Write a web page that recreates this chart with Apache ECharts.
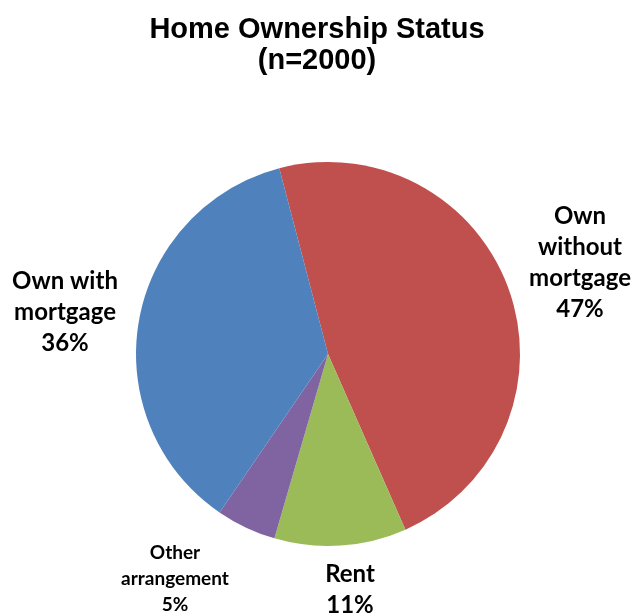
<!DOCTYPE html>
<html>
<head>
<meta charset="utf-8">
<script src="https://cdn.jsdelivr.net/npm/echarts@6/dist/echarts.min.js"></script>
<style>
  html, body { margin: 0; padding: 0; background: #fff; }
  #main { width: 634px; height: 616px; }
</style>
</head>
<body>
<div id="main"></div>
<script>
// 数据
var categories = ['Own\nwithout\nmortgage', 'Rent', 'Other\narrangement', 'Own with\nmortgage'];
var percents = [47, 11, 5, 36];
var colors = ['#C0504D', '#9BBB59', '#8064A2', '#4F81BD'];

// 标签位置 (相对于饼图中心)
var labelSpots = [[252, -91], [22, 236], [-153, 225], [-263, -42]];
var cx = 328, cy = 354;

var pieData = [];
for (var i = 0; i < categories.length; i++) {
  pieData.push({
    name: categories[i],
    value: percents[i],
    itemStyle: { color: colors[i] },
    label: i == 2 ? { fontSize: 19, lineHeight: 26 } : {}
  });
}

var chart = echarts.init(document.getElementById('main'));
chart.setOption({
  animation: false,
  title: {
    text: 'Home Ownership Status\n(n=2000)',
    left: 'center',
    top: 9,
    textStyle: {
      fontFamily: 'Liberation Sans, Arial',
      fontWeight: 'bold',
      fontSize: 29,
      lineHeight: 31,
      color: '#000'
    }
  },
  series: [{
    type: 'pie',
    center: [cx, cy],
    radius: [0, 192],
    startAngle: 104.7,
    clockwise: true,
    itemStyle: { borderWidth: 0 },
    label: {
      show: true,
      position: 'outside',
      fontFamily: 'Lato, Open Sans',
      fontWeight: 'bold',
      fontSize: 24,
      lineHeight: 31,
      color: '#000',
      align: 'center',
      overflow: 'none',
      formatter: function (p) { return p.name + '\n' + p.value + '%'; }
    },
    labelLine: { show: false },
    labelLayout: function (p) {
      var s = labelSpots[p.dataIndex];
      return {
        x: cx + s[0],
        y: cy + s[1],
        align: 'center',
        verticalAlign: 'middle'
      };
    },
    emphasis: { disabled: true },
    data: pieData
  }]
});
</script>
</body>
</html>
